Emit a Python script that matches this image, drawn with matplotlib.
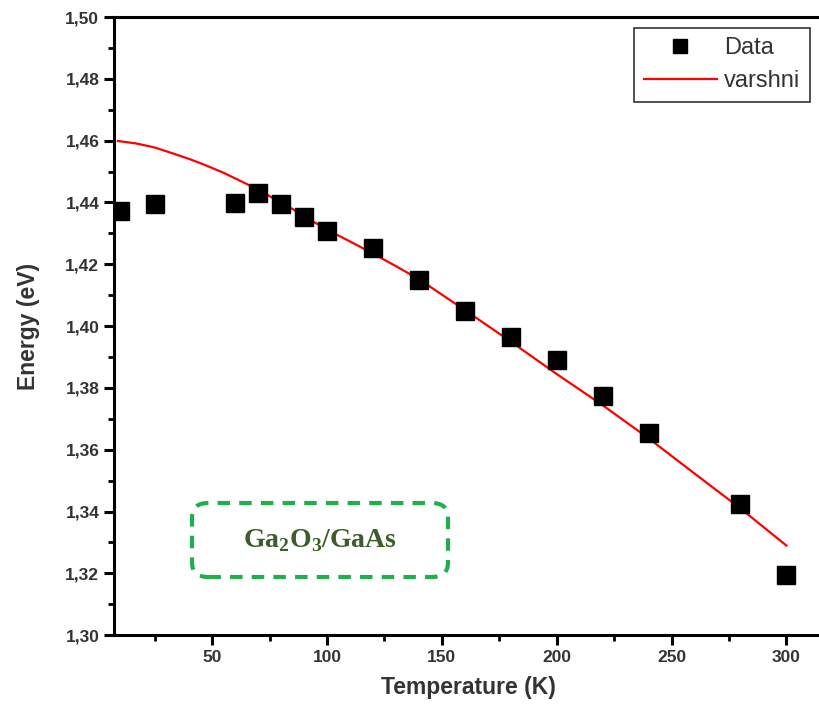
import matplotlib
matplotlib.use("Agg")
import matplotlib.pyplot as plt
from matplotlib.ticker import MultipleLocator, FuncFormatter
from matplotlib.patches import FancyBboxPatch

# Data
temp = [10, 25, 60, 70, 80, 90, 100, 120, 140, 160, 180, 200, 220, 240, 280, 300]
energy = [1.4373, 1.4395, 1.4399, 1.4431, 1.4395, 1.4354, 1.4307, 1.4253,
          1.4149, 1.4049, 1.3965, 1.3890, 1.3774, 1.3655, 1.3424, 1.3194]

# Varshni fit curve (sampled from the figure)
fit_t = [9, 17, 25, 32, 40, 47, 55, 62, 70, 77, 85, 92, 100, 110, 120, 130, 140,
         160, 180, 200, 220, 240, 260, 280, 300]
fit_e = [1.4599, 1.4591, 1.4578, 1.4561, 1.4541, 1.4521, 1.4496, 1.4471, 1.4442,
         1.4412, 1.4379, 1.4347, 1.4312, 1.4274, 1.4235, 1.4194, 1.4152,
         1.4052, 1.3950, 1.3845, 1.3744, 1.3637, 1.3523, 1.3410, 1.3290]

plt.rcParams['font.family'] = ['Liberation Sans', 'DejaVu Sans']
plt.rcParams['mathtext.fontset'] = 'custom'
plt.rcParams['mathtext.rm'] = 'Liberation Serif:bold'
plt.rcParams['mathtext.bf'] = 'Liberation Serif:bold'

fig = plt.figure(figsize=(8.19, 7.12), dpi=100)
ax = fig.add_axes([0.139, 0.108, 0.866, 0.868])

ax.plot(fit_t, fit_e, color='#ff0000', lw=1.6, label='varshni', zorder=2)
ax.plot(temp, energy, 's', color='black', ms=13, label='Data', zorder=3)

ax.set_xlim(7.2, 316)
ax.set_ylim(1.30, 1.50)

ax.xaxis.set_major_locator(MultipleLocator(50))
ax.xaxis.set_minor_locator(MultipleLocator(25))
ax.yaxis.set_major_locator(MultipleLocator(0.02))
ax.yaxis.set_minor_locator(MultipleLocator(0.01))
ax.yaxis.set_major_formatter(FuncFormatter(lambda v, p: f"{v:.2f}".replace('.', ',')))
ax.xaxis.set_major_formatter(FuncFormatter(lambda v, p: f"{v:.0f}" if v > 0 else ""))

for s in ax.spines.values():
    s.set_linewidth(2.2)
ax.tick_params(which='major', direction='out', length=7, width=2.2,
               labelsize=12.5, labelcolor='#333333')
ax.tick_params(which='minor', direction='out', length=4, width=2)
for lab in ax.get_xticklabels() + ax.get_yticklabels():
    lab.set_fontweight('bold')

ax.set_xlabel('Temperature (K)', fontsize=16.5, fontweight='bold', color='#333333', labelpad=8)
ax.set_ylabel('Energy (eV)', fontsize=16.5, fontweight='bold', color='#333333', labelpad=18)

handles, labels = ax.get_legend_handles_labels()
leg = ax.legend(handles[::-1], labels[::-1], loc='upper right', bbox_to_anchor=(0.988, 0.99),
                fontsize=17, frameon=True, fancybox=False, edgecolor='black',
                handlelength=3.1, borderpad=0.4, labelspacing=0.45, handletextpad=0.3,
                borderaxespad=0.2, markerscale=0.75)
leg.get_frame().set_linewidth(1.2)
for t in leg.get_texts():
    t.set_color('#333333')

# annotation box
box = FancyBboxPatch((192 / 819, 1 - 577 / 712), 256 / 819, 74 / 712,
                     boxstyle='round,pad=0,rounding_size=0.02', transform=fig.transFigure,
                     fill=False, edgecolor='#1fb04d', lw=3, linestyle=(0, (3, 2.2)))
fig.patches.append(box)
fig.text(320 / 819, 1 - 541 / 712, r'Ga$_{2}$O$_{3}$/GaAs', ha='center', va='center',
         fontsize=20, fontweight='bold', color='#3b5e2b', family='Liberation Serif')

fig.savefig('out.png', dpi=100)
